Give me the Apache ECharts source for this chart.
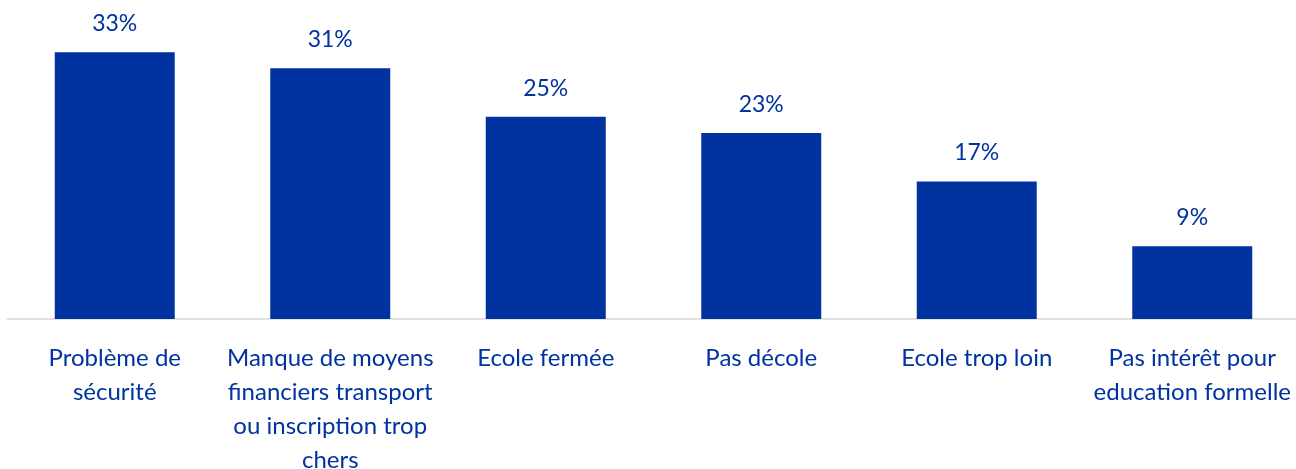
<!DOCTYPE html>
<html>
<head>
<meta charset="utf-8">
<script src="https://cdn.jsdelivr.net/npm/echarts@6/dist/echarts.min.js"></script>
<style>
  html, body { margin: 0; padding: 0; background: #ffffff; }
  #chart { width: 1296px; height: 469px; }
</style>
</head>
<body>
<div id="chart"></div>
<script>
// Raisons de non-scolarisation (% des répondants)
const categories = [
  "Problème de\nsécurité",
  "Manque de moyens\nfinanciers transport\nou inscription trop\nchers",
  "Ecole fermée",
  "Pas décole",
  "Ecole trop loin",
  "Pas intérêt pour\neducation formelle"
];
const values = [33, 31, 25, 23, 17, 9];

const BLUE = "#0033A0";
const FONT = "Lato, 'Open Sans', sans-serif";

const chart = echarts.init(document.getElementById("chart"), null, { renderer: "canvas" });
chart.setOption({
  animation: false,
  backgroundColor: "#ffffff",
  grid: {
    left: 7, right: -4, top: 36, bottom: 150,
    containLabel: false,
    outerBoundsMode: "none"
  },
  xAxis: {
    type: "category",
    data: categories,
    axisLine: { show: true, lineStyle: { color: "#d9d9d9", width: 1.5 } },
    axisTick: { show: false },
    axisLabel: {
      interval: 0,
      color: BLUE,
      fontFamily: FONT,
      fontSize: 24,
      lineHeight: 34,
      margin: 22,
      align: "center"
    }
  },
  yAxis: {
    type: "value",
    min: 0,
    max: 35,
    show: false,
    splitLine: { show: false }
  },
  series: [{
    type: "bar",
    data: values,
    barWidth: 120,
    itemStyle: { color: BLUE },
    label: {
      show: true,
      position: "top",
      distance: 17,
      color: BLUE,
      fontFamily: FONT,
      fontSize: 23,
      formatter: p => p.value + "%"
    }
  }]
});
</script>
</body>
</html>
